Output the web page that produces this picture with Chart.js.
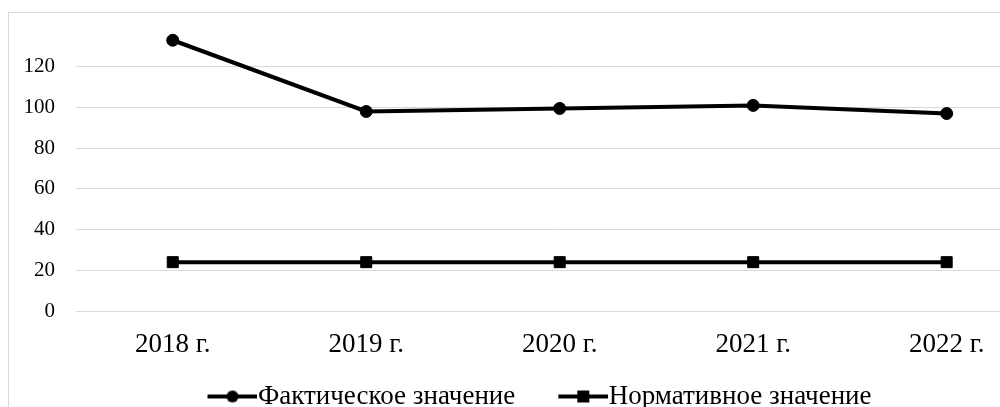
<!DOCTYPE html>
<html lang="ru">
<head>
<meta charset="utf-8">
<title>Фактическое и нормативное значение</title>
<script src="https://cdn.jsdelivr.net/npm/chart.js@4/dist/chart.umd.min.js"></script>
<style>
    html, body { margin: 0; padding: 0; background: #fff; overflow: hidden; width: 1000px; height: 407px; }
    #frame { position: absolute; left: 8px; top: 12px; border-left: 1px solid #d9d9d9; border-top: 1px solid #d9d9d9; width: 1061px; height: 407px; }
    #chart { display: block; }
</style>
</head>
<body>
<div id="frame"><canvas id="chart" width="1061" height="407"></canvas></div>
<script>
// data
const years = ["2018 г.", "2019 г.", "2020 г.", "2021 г.", "2022 г."];
const actualValues = [133, 98, 99.5, 101, 97];
const normValues = [24, 24, 24, 24, 24];
const seriesNames = ["Фактическое значение", "Нормативное значение"];

const FONT = "'Liberation Serif', 'Times New Roman', serif";

// legend marker: a short line with the point in the middle, padded on the left
function legendMarker(style) {
    const c = document.createElement("canvas");
    c.width = 100;
    c.height = 16;
    const g = c.getContext("2d");
    g.fillStyle = "#000";
    g.fillRect(50, 6, 50, 4);
    if (style === "circle") {
        g.beginPath();
        g.arc(75, 8, 6, 0, Math.PI * 2);
        g.fill();
    } else {
        g.fillRect(69, 2, 12, 12);
    }
    return c;
}

const markers = [legendMarker("circle"), legendMarker("rect")];

function gridColor(ctx) {
    return ctx.tick && ctx.tick.value === 140 ? "rgba(0,0,0,0)" : "#d9d9d9";
}

new Chart(document.getElementById("chart"), {
    type: "line",
    data: {
        labels: years,
        datasets: [
            {
                label: seriesNames[0],
                data: actualValues,
                borderColor: "#000",
                backgroundColor: "#000",
                borderWidth: 4,
                pointStyle: "circle",
                pointRadius: 6,
                pointBorderWidth: 1,
                tension: 0
            },
            {
                label: seriesNames[1],
                data: normValues,
                borderColor: "#000",
                backgroundColor: "#000",
                borderWidth: 4,
                pointStyle: "rect",
                pointRadius: 7.8,
                pointBorderWidth: 1,
                tension: 0
            }
        ]
    },
    options: {
        responsive: false,
        animation: false,
        // negative left padding keeps the legend centred on its visible part
        layout: { padding: { top: 13, left: -37, right: 0, bottom: 0 } },
        plugins: {
            tooltip: { enabled: false },
            legend: {
                position: "bottom",
                labels: {
                    usePointStyle: true,
                    pointStyleWidth: 74,
                    padding: 6,
                    color: "#000",
                    font: { family: FONT, size: 27 },
                    generateLabels: chart => chart.data.datasets.map((ds, i) => ({
                        text: ds.label,
                        pointStyle: markers[i],
                        fillStyle: "#000",
                        strokeStyle: "#000",
                        lineWidth: 0,
                        fontColor: "#000",
                        datasetIndex: i,
                        hidden: false
                    }))
                }
            }
        },
        scales: {
            x: {
                offset: true,
                afterFit: scale => { scale.height = 66; },
                grid: { display: false, drawTicks: false, offset: true },
                border: { display: false },
                ticks: { color: "#000", padding: 18, font: { family: FONT, size: 27 } }
            },
            y: {
                min: 0,
                max: 140,
                afterFit: scale => {
                    scale.width = 104;
                    scale.paddingTop = 0;
                    scale.paddingBottom = 0;
                },
                grid: { color: gridColor, lineWidth: 1, drawTicks: false },
                border: { display: false },
                ticks: {
                    stepSize: 20,
                    padding: 21,
                    color: "#000",
                    font: { family: FONT, size: 21 },
                    callback: v => (v === 140 ? "" : v)
                }
            },
            y2: {
                position: "right",
                afterFit: scale => { scale.width = 26.6; },
                grid: { display: false, drawTicks: false },
                border: { display: false },
                ticks: { display: false }
            }
        }
    }
});
</script>
</body>
</html>
